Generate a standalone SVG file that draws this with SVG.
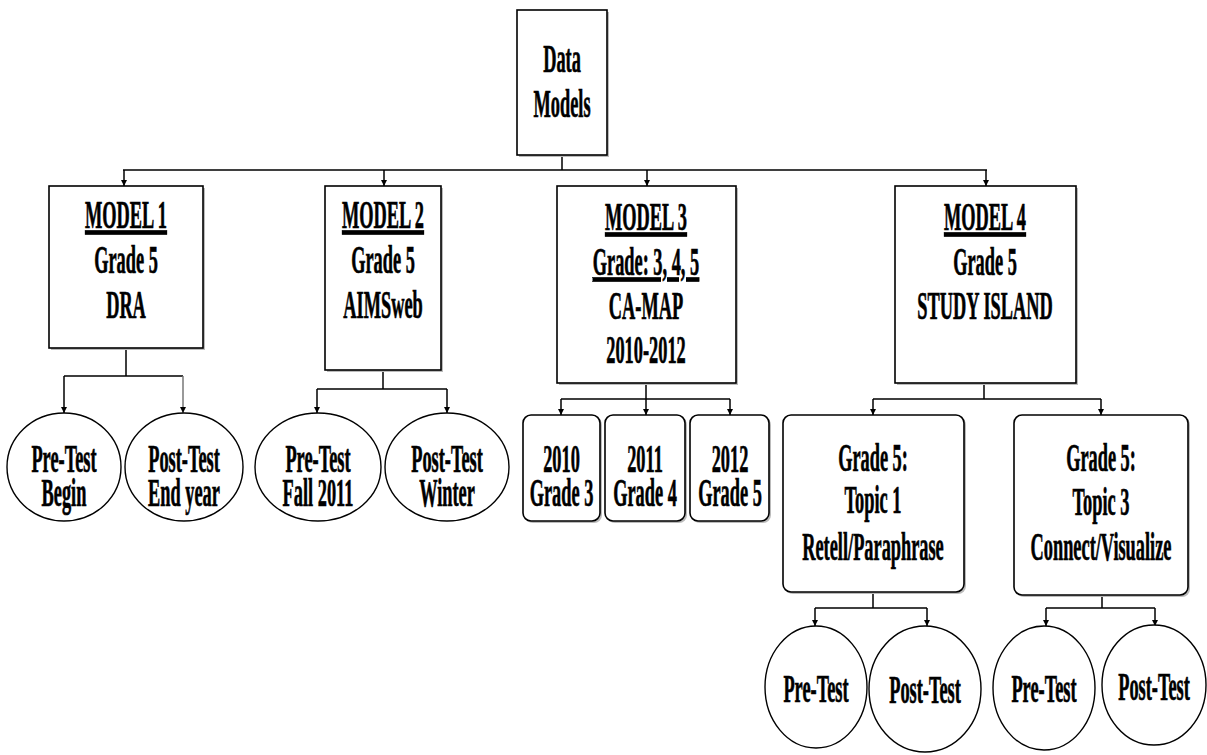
<svg xmlns="http://www.w3.org/2000/svg" width="1207" height="755" viewBox="0 0 1207 755">
<defs>
<marker id="ah" viewBox="0 0 10 10" refX="10" refY="5" markerWidth="6" markerHeight="8" markerUnits="userSpaceOnUse" orient="auto">
<path d="M0,0 L10,5 L0,10 Z" fill="#000"/>
</marker>
</defs>
<style>
.box{fill:#fff;stroke:#000;stroke-width:1.6}
.sh{fill:#bbb;stroke:none}
.c{fill:#fff;stroke:#000;stroke-width:1.4}
.t{font-family:"Liberation Serif","Times New Roman",serif;font-weight:bold;font-size:39px;text-anchor:middle;fill:#000;stroke:#000;stroke-width:0.7}
.u{text-decoration:underline}
.ln{fill:none;stroke:#000;stroke-width:1.5}
.ar{fill:none;stroke:#000;stroke-width:1.5;marker-end:url(#ah)}
</style>
<rect width="1207" height="755" fill="#fff"/>

<g id="connectors">
<path class="ln" d="M562,155 V170 M123,170 H987"/>
<path class="ar" d="M124,170 V186"/>
<path class="ar" d="M384,170 V186"/>
<path class="ar" d="M647,170 V186"/>
<path class="ar" d="M986,170 V186"/>
<path class="ln" d="M126,348 V376 M64,376 H183"/>
<path class="ar" d="M64,376 V413"/>
<path class="ar" d="M183,376 V413" style="stroke:#777"/>
<path class="ln" d="M383,370 V389 M317,389 H447"/>
<path class="ar" d="M317,389 V413"/>
<path class="ar" d="M447,389 V413"/>
<path class="ln" d="M646,383 V399 M561,399 H730"/>
<path class="ar" d="M561,399 V415"/>
<path class="ar" d="M646,399 V415"/>
<path class="ar" d="M730,399 V415"/>
<path class="ln" d="M984,383 V399 M873,399 H1101"/>
<path class="ar" d="M873,399 V415"/>
<path class="ar" d="M1101,399 V415"/>
<path class="ln" d="M873,592 V608 M815,608 H927"/>
<path class="ar" d="M815,608 V626"/>
<path class="ar" d="M927,608 V626"/>
<path class="ln" d="M1102,595 V608 M1046,608 H1155"/>
<path class="ar" d="M1046,608 V626"/>
<path class="ar" d="M1155,608 V626"/>
</g>

<g id="root">
<rect class="sh" x="519" y="12" width="90" height="145"/>
<rect class="box" x="517" y="10" width="90" height="145"/>
<text class="t" transform="matrix(0.47 0 0 1 562 0)" y="72">Data</text>
<text class="t" transform="matrix(0.47 0 0 1 562 0)" y="117">Models</text>
</g>

<g id="model1">
<rect class="sh" x="51" y="188" width="154" height="162"/>
<rect class="box" x="49" y="186" width="154" height="162"/>
<text class="t u" transform="matrix(0.47 0 0 1 126 0)" y="228">MODEL 1</text>
<text class="t" transform="matrix(0.47 0 0 1 126 0)" y="273">Grade 5</text>
<text class="t" transform="matrix(0.47 0 0 1 126 0)" y="318">DRA</text>
</g>

<g id="model2">
<rect class="sh" x="327" y="188" width="116" height="184"/>
<rect class="box" x="325" y="186" width="116" height="184"/>
<text class="t u" transform="matrix(0.47 0 0 1 383 0)" y="228">MODEL 2</text>
<text class="t" transform="matrix(0.47 0 0 1 383 0)" y="273">Grade 5</text>
<text class="t" transform="matrix(0.47 0 0 1 383 0)" y="318">AIMSweb</text>
</g>

<g id="model3">
<rect class="sh" x="559" y="188" width="179" height="197"/>
<rect class="box" x="557" y="186" width="179" height="197"/>
<text class="t u" transform="matrix(0.47 0 0 1 646 0)" y="230">MODEL 3</text>
<text class="t u" transform="matrix(0.47 0 0 1 646 0)" y="275">Grade: 3, 4, 5</text>
<text class="t" transform="matrix(0.47 0 0 1 646 0)" y="319">CA-MAP</text>
<text class="t" transform="matrix(0.47 0 0 1 646 0)" y="363">2010-2012</text>
</g>

<g id="model4">
<rect class="sh" x="897" y="188" width="181" height="197"/>
<rect class="box" x="895" y="186" width="181" height="197"/>
<text class="t u" transform="matrix(0.47 0 0 1 985 0)" y="230">MODEL 4</text>
<text class="t" transform="matrix(0.47 0 0 1 985 0)" y="275">Grade 5</text>
<text class="t" transform="matrix(0.47 0 0 1 985 0)" y="319">STUDY ISLAND</text>
</g>

<g id="m1-pre">
<ellipse class="c" cx="64" cy="467" rx="57" ry="54"/>
<text class="t" transform="matrix(0.47 0 0 1 64 0)" y="472">Pre-Test</text>
<text class="t" transform="matrix(0.47 0 0 1 64 0)" y="506">Begin</text>
</g>
<g id="m1-post">
<ellipse class="c" cx="184" cy="467" rx="59" ry="54"/>
<text class="t" transform="matrix(0.47 0 0 1 184 0)" y="472">Post-Test</text>
<text class="t" transform="matrix(0.47 0 0 1 184 0)" y="506">End year</text>
</g>
<g id="m2-pre">
<ellipse class="c" cx="318" cy="467" rx="63" ry="54"/>
<text class="t" transform="matrix(0.47 0 0 1 318 0)" y="472">Pre-Test</text>
<text class="t" transform="matrix(0.47 0 0 1 318 0)" y="506">Fall 2011</text>
</g>
<g id="m2-post">
<ellipse class="c" cx="447" cy="467" rx="62" ry="54"/>
<text class="t" transform="matrix(0.47 0 0 1 447 0)" y="472">Post-Test</text>
<text class="t" transform="matrix(0.47 0 0 1 447 0)" y="506">Winter</text>
</g>

<g id="y2010">
<rect class="sh" x="525" y="417" width="77" height="106" rx="8"/>
<rect class="box" x="523" y="415" width="77" height="106" rx="8"/>
<text class="t" transform="matrix(0.47 0 0 1 561.5 0)" y="472">2010</text>
<text class="t" transform="matrix(0.47 0 0 1 561.5 0)" y="506">Grade 3</text>
</g>
<g id="y2011">
<rect class="sh" x="607" y="417" width="80" height="106" rx="8"/>
<rect class="box" x="605" y="415" width="80" height="106" rx="8"/>
<text class="t" transform="matrix(0.47 0 0 1 645 0)" y="472">2011</text>
<text class="t" transform="matrix(0.47 0 0 1 645 0)" y="506">Grade 4</text>
</g>
<g id="y2012">
<rect class="sh" x="692" y="417" width="79" height="106" rx="8"/>
<rect class="box" x="690" y="415" width="79" height="106" rx="8"/>
<text class="t" transform="matrix(0.47 0 0 1 730 0)" y="472">2012</text>
<text class="t" transform="matrix(0.47 0 0 1 730 0)" y="506">Grade 5</text>
</g>

<g id="topic1">
<rect class="sh" x="785" y="417" width="181" height="177" rx="8"/>
<rect class="box" x="783" y="415" width="181" height="177" rx="8"/>
<text class="t" transform="matrix(0.47 0 0 1 873 0)" y="471">Grade 5:</text>
<text class="t" transform="matrix(0.47 0 0 1 873 0)" y="513">Topic 1</text>
<text class="t" transform="matrix(0.47 0 0 1 873 0)" y="560">Retell/Paraphrase</text>
</g>
<g id="topic3">
<rect class="sh" x="1016" y="417" width="174" height="180" rx="8"/>
<rect class="box" x="1014" y="415" width="174" height="180" rx="8"/>
<text class="t" transform="matrix(0.47 0 0 1 1101 0)" y="471">Grade 5:</text>
<text class="t" transform="matrix(0.47 0 0 1 1101 0)" y="515">Topic 3</text>
<text class="t" transform="matrix(0.47 0 0 1 1101 0)" y="560">Connect/Visualize</text>
</g>

<g id="t1-pre">
<ellipse class="c" cx="816" cy="687" rx="51" ry="61"/>
<text class="t" transform="matrix(0.47 0 0 1 816 0)" y="702">Pre-Test</text>
</g>
<g id="t1-post">
<ellipse class="c" cx="925" cy="689" rx="56" ry="63"/>
<text class="t" transform="matrix(0.47 0 0 1 925 0)" y="703">Post-Test</text>
</g>
<g id="t3-pre">
<ellipse class="c" cx="1044" cy="688" rx="51" ry="62"/>
<text class="t" transform="matrix(0.47 0 0 1 1044 0)" y="702">Pre-Test</text>
</g>
<g id="t3-post">
<ellipse class="c" cx="1154" cy="685" rx="52" ry="60"/>
<text class="t" transform="matrix(0.47 0 0 1 1154 0)" y="700">Post-Test</text>
</g>
</svg>
